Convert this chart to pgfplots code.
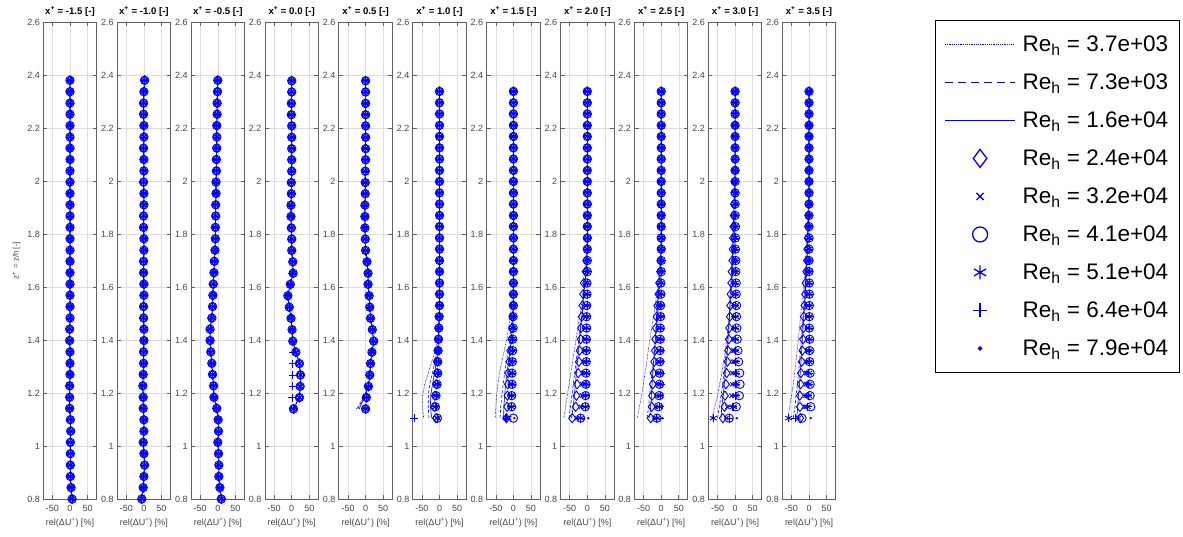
\documentclass[border=0pt]{standalone}
\usepackage{pgfplots}
\pgfplotsset{compat=1.18}
\usepackage{pgfplotstable}
\usepackage{fontspec}
\setmainfont{Liberation Sans}

% ---------- data: panels 1-3 (all Re collapse) ----------
\pgfplotstableread{
z u
0.800 6
0.843 3
0.885 1
0.928 1
0.971 1
1.014 1
1.056 2
1.099 1
1.142 -1
1.184 -1
1.227 -1
1.270 0
1.312 0
1.355 0
1.398 -1
1.441 -1
1.483 0
1.526 0
1.569 0
1.611 0
1.654 0
1.697 0
1.739 0
1.782 0
1.825 0
1.868 0
1.910 0
1.953 0
1.996 0
2.038 0
2.081 0
2.124 0
2.166 0
2.209 0
2.252 0
2.294 0
2.337 0
2.380 0
}\tPone
\pgfplotstableread{
z u
0.800 -6
0.843 -2
0.885 0
0.928 2
0.971 0
1.014 -2
1.056 0
1.099 0
1.142 -2
1.184 -2
1.227 -3
1.270 -2
1.312 -1
1.355 -1
1.398 0
1.441 0
1.483 -1
1.526 -1
1.569 0
1.611 0
1.654 -1
1.697 -1
1.739 0
1.782 0
1.825 -1
1.868 -1
1.910 0
1.953 0
1.996 -1
2.038 0
2.081 0
2.124 -1
2.166 0
2.209 0
2.252 -1
2.294 -1
2.337 0
2.380 2
}\tPtwo
\pgfplotstableread{
z u
0.800 10
0.843 6
0.885 3
0.928 3
0.971 2
1.014 0
1.056 2
1.099 1
1.142 -3
1.184 -11
1.227 -12
1.270 -15
1.312 -17
1.355 -20
1.398 -22
1.441 -22
1.483 -17
1.526 -15
1.569 -14
1.611 -13
1.654 -11
1.697 -10
1.739 -8
1.782 -7
1.825 -7
1.868 -6
1.910 -6
1.953 -5
1.996 -5
2.038 -4
2.081 -4
2.124 -3
2.166 -3
2.209 -3
2.252 -2
2.294 -2
2.337 -1
2.380 0
}\tPthree
% ---------- panel 4 (x+=0.0): u = all, p = Re 6.4e4 ----------
\pgfplotstableread{
z u p
1.140 5 5
1.183 22 2
1.225 24 3
1.268 25 3
1.311 22 3
1.354 12 4
1.396 3 3
1.439 1 1
1.482 -2 -2
1.524 -7 -7
1.567 -11 -11
1.610 -4 -4
1.652 4 2
1.695 3 3
1.738 0 0
1.781 0 0
1.823 -1 -1
1.866 -2 -2
1.909 -2 -2
1.952 -1 -1
1.994 -1 -1
2.037 0 0
2.080 0 0
2.122 0 0
2.165 0 0
2.208 0 0
2.250 -1 -1
2.293 -1 -1
2.336 0 0
2.378 0 0
}\tPfour
% ---------- panel 5 (x+=0.5) ----------
\pgfplotstableread{
z u la lb lc
1.140 0 -26 -22 -18
1.183 2 -6 -5 -4
1.225 8 8 8 8
1.268 12 12 12 12
1.311 14 14 14 14
1.354 18 18 18 18
1.396 23 23 23 23
1.439 19 19 19 19
1.482 14 14 14 14
1.524 12 12 12 12
1.567 10 10 10 10
1.610 7 7 7 7
1.652 7 7 7 7
1.695 4 4 4 4
1.738 0 0 0 0
1.781 -1 -1 -1 -1
1.823 -2 -2 -2 -2
1.866 -2 -2 -2 -2
1.909 -2 -2 -2 -2
1.952 -1 -1 -1 -1
1.994 -1 -1 -1 -1
2.037 -1 -1 -1 -1
2.080 0 0 0 0
2.122 0 0 0 0
2.165 0 0 0 0
2.208 0 0 0 0
2.250 0 0 0 0
2.293 0 0 0 0
2.336 0 0 0 0
2.378 0 0 0 0
}\tPfive
% ---------- panels 6-11: a..k = Re 3.7e3 ... 7.9e4 ----------
\pgfplotstableread{
z a b c d e f g h k
1.105 -45 -30 -22 -10 -8 -6 -6 -72 -4
1.148 -48 -32 -26 -15 -13 -12 -11 -10 -9
1.190 -48 -32 -25 -13 -11 -10 -10 -9 -9
1.233 -42 -28 -20 -9 -8 -7 -7 -7 -6
1.275 -32 -20 -14 -7 -6 -5 -5 -5 -5
1.318 -22 -13 -9 -6 -5 -5 -5 -4 -4
1.360 -12 -7 -5 -4 -4 -4 -4 -4 -4
1.403 -5 -3 -3 -3 -3 -3 -3 -3 -3
1.445 -2 -2 -2 -2 -2 -2 -2 -2 -2
1.488 -1 -1 -1 -1 -1 -1 -1 -1 -1
1.530 0 0 0 0 0 0 0 0 0
1.573 0 0 0 0 0 0 0 0 0
1.615 0 0 0 0 0 0 0 0 0
1.658 0 0 0 0 0 0 0 0 0
1.700 0 0 0 0 0 0 0 0 0
1.743 0 0 0 0 0 0 0 0 0
1.785 0 0 0 0 0 0 0 0 0
1.828 0 0 0 0 0 0 0 0 0
1.870 0 0 0 0 0 0 0 0 0
1.913 0 0 0 0 0 0 0 0 0
1.955 0 0 0 0 0 0 0 0 0
1.998 0 0 0 0 0 0 0 0 0
2.040 0 0 0 0 0 0 0 0 0
2.083 0 0 0 0 0 0 0 0 0
2.125 0 0 0 0 0 0 0 0 0
2.168 0 0 0 0 0 0 0 0 0
2.210 0 0 0 0 0 0 0 0 0
2.253 0 0 0 0 0 0 0 0 0
2.295 0 0 0 0 0 0 0 0 0
2.338 0 0 0 0 0 0 0 0 0
}\tPsix
\pgfplotstableread{
z a b c d e f g h k
1.105 -52 -38 -28 -20 -12 0 -20 -22 3
1.148 -50 -36 -27 -18 -10 -5 -6 -6 -4
1.190 -48 -33 -25 -17 -9 -5 -5 -5 -4
1.233 -44 -29 -22 -16 -8 -4 -4 -4 -4
1.275 -40 -25 -18 -15 -7 -4 -4 -3 -3
1.318 -33 -20 -14 -12 -6 -3 -3 -3 -3
1.360 -26 -15 -10 -9 -5 -2 -2 -2 -2
1.403 -19 -10 -6 -6 -3 -2 -2 -2 -2
1.445 -14 -6 -3 -4 -2 -1 -1 -1 -1
1.488 -9 -3 -1 -2 -1 -1 -1 -1 -1
1.530 -5 -1 0 -1 0 0 0 0 0
1.573 -3 0 0 0 0 0 0 0 0
1.615 -1 0 0 0 0 0 0 0 0
1.658 0 0 0 0 0 0 0 0 0
1.700 0 0 0 0 0 0 0 0 0
1.743 0 0 0 0 0 0 0 0 0
1.785 0 0 0 0 0 0 0 0 0
1.828 0 0 0 0 0 0 0 0 0
1.870 0 0 0 0 0 0 0 0 0
1.913 0 0 0 0 0 0 0 0 0
1.955 0 0 0 0 0 0 0 0 0
1.998 0 0 0 0 0 0 0 0 0
2.040 0 0 0 0 0 0 0 0 0
2.083 0 0 0 0 0 0 0 0 0
2.125 0 0 0 0 0 0 0 0 0
2.168 0 0 0 0 0 0 0 0 0
2.210 0 0 0 0 0 0 0 0 0
2.253 0 0 0 0 0 0 0 0 0
2.295 0 0 0 0 0 0 0 0 0
2.338 0 0 0 0 0 0 0 0 0
}\tPseven
\pgfplotstableread{
z a b c d e f g h k
1.105 -67 -52 -45 -43 -30 -19 -19 -19 3
1.148 -62 -48 -40 -33 -18 -6 -5 -5 -4
1.190 -57 -44 -37 -31 -15 -5 -4 -4 -3
1.233 -52 -40 -34 -29 -14 -4 -4 -3 -3
1.275 -47 -36 -31 -26 -12 -4 -3 -3 -3
1.318 -42 -32 -28 -24 -10 -3 -3 -3 -2
1.360 -37 -28 -25 -22 -9 -3 -3 -2 -2
1.403 -32 -24 -22 -19 -8 -3 -2 -2 -2
1.445 -27 -20 -19 -18 -7 -2 -2 -2 -2
1.488 -22 -16 -16 -16 -5 -2 -2 -2 -1
1.530 -17 -12 -13 -14 -4 -2 -1 -1 -1
1.573 -12 -9 -10 -12 -3 -1 -1 -1 -1
1.615 -7 -6 -7 -10 -2 -1 -1 -1 -1
1.658 -3 -3 -4 -5 -1 0 0 0 0
1.700 -1 -1 -2 -3 -1 0 0 0 0
1.743 0 0 -1 -1 0 0 0 0 0
1.785 0 0 0 0 0 0 0 0 0
1.828 0 0 0 0 0 0 0 0 0
1.870 0 0 0 0 0 0 0 0 0
1.913 0 0 0 0 0 0 0 0 0
1.955 0 0 0 0 0 0 0 0 0
1.998 0 0 0 0 0 0 0 0 0
2.040 0 0 0 0 0 0 0 0 0
2.083 0 0 0 0 0 0 0 0 0
2.125 0 0 0 0 0 0 0 0 0
2.168 0 0 0 0 0 0 0 0 0
2.210 0 0 0 0 0 0 0 0 0
2.253 0 0 0 0 0 0 0 0 0
2.295 0 0 0 0 0 0 0 0 0
2.338 0 0 0 0 0 0 0 0 0
}\tPeight
\pgfplotstableread{
z a b c d e f g h k
1.105 -68 -40 -33 -30 -18 -12 -12 -13 4
1.148 -62 -36 -30 -27 -15 -8 -5 -4 -2
1.190 -56 -33 -28 -26 -13 -6 -3 -3 -2
1.233 -51 -30 -26 -24 -12 -5 -3 -2 -2
1.275 -46 -26 -24 -22 -11 -5 -2 -2 -1
1.318 -41 -22 -21 -20 -10 -4 -2 -2 -1
1.360 -37 -19 -19 -18 -9 -4 -2 -1 -1
1.403 -32 -16 -17 -17 -8 -3 -1 -1 -1
1.445 -27 -13 -15 -15 -7 -3 -1 -1 -1
1.488 -22 -10 -13 -13 -6 -2 -1 -1 -1
1.530 -17 -8 -11 -11 -5 -2 -1 -1 0
1.573 -13 -6 -8 -8 -4 -1 0 0 0
1.615 -9 -4 -6 -6 -3 -1 0 0 0
1.658 -6 -2 -3 -3 -2 0 0 0 0
1.700 -3 -1 -2 -2 -1 0 0 0 0
1.743 -1 0 0 0 0 0 0 0 0
1.785 0 0 0 0 0 0 0 0 0
1.828 0 0 0 0 0 0 0 0 0
1.870 0 0 0 0 0 0 0 0 0
1.913 0 0 0 0 0 0 0 0 0
1.955 0 0 0 0 0 0 0 0 0
1.998 0 0 0 0 0 0 0 0 0
2.040 0 0 0 0 0 0 0 0 0
2.083 0 0 0 0 0 0 0 0 0
2.125 0 0 0 0 0 0 0 0 0
2.168 0 0 0 0 0 0 0 0 0
2.210 0 0 0 0 0 0 0 0 0
2.253 0 0 0 0 0 0 0 0 0
2.295 0 0 0 0 0 0 0 0 0
2.338 0 0 0 0 0 0 0 0 0
}\tPnine
\pgfplotstableread{
z a b c d e f g h k
1.105 -66 -50 -40 -35 -25 -17 -62 -17 5
1.148 -58 -45 -38 -30 -22 3 -5 -8 2
1.190 -50 -40 -34 -29 -10 12 2 2 2
1.233 -44 -35 -31 -26 -8 14 3 2 2
1.275 -38 -31 -28 -24 -8 13 3 2 2
1.318 -33 -28 -25 -22 -6 10 2 2 1
1.360 -28 -25 -22 -20 -5 8 2 1 1
1.403 -24 -22 -20 -18 -4 6 1 1 1
1.445 -20 -19 -18 -17 -3 5 1 1 1
1.488 -17 -16 -16 -15 -3 4 1 1 1
1.530 -14 -14 -15 -14 -2 4 1 1 1
1.573 -11 -12 -14 -13 -2 3 0 0 0
1.615 -9 -10 -12 -11 -1 3 0 0 0
1.658 -7 -8 -10 -10 -1 2 0 0 0
1.700 -5 -6 -9 -8 0 2 0 0 0
1.743 -3 -4 -7 -7 0 1 0 0 0
1.785 -2 -3 -6 -6 0 1 0 0 0
1.828 -1 -2 -5 -5 0 1 0 0 0
1.870 0 -1 -4 -4 0 0 0 0 0
1.913 0 0 -3 -3 0 0 0 0 0
1.955 0 0 -2 -2 0 0 0 0 0
1.998 0 0 -1 -1 0 0 0 0 0
2.040 0 0 0 0 0 0 0 0 0
2.083 0 0 0 0 0 0 0 0 0
2.125 0 0 0 0 0 0 0 0 0
2.168 0 0 0 0 0 0 0 0 0
2.210 0 0 0 0 0 0 0 0 0
2.253 0 0 0 0 0 0 0 0 0
2.295 0 0 0 0 0 0 0 0 0
2.338 0 0 0 0 0 0 0 0 0
}\tPten
\pgfplotstableread{
z a b c d e f g h k
1.105 -60 -45 -35 -25 -30 -20 -58 -40 5
1.148 -55 -40 -32 -26 -12 5 -5 -4 -2
1.190 -50 -37 -30 -26 -10 3 -2 -2 -1
1.233 -45 -33 -27 -24 -9 3 -1 -1 -1
1.275 -41 -30 -25 -23 -8 3 -1 -1 -1
1.318 -37 -27 -23 -21 -7 2 0 0 0
1.360 -34 -24 -21 -19 -6 2 0 0 0
1.403 -30 -22 -19 -17 -5 2 0 0 0
1.445 -27 -19 -17 -16 -5 1 0 0 0
1.488 -24 -17 -15 -15 -4 1 0 0 0
1.530 -21 -15 -13 -13 -3 1 0 0 0
1.573 -18 -13 -11 -11 -3 1 0 0 0
1.615 -15 -11 -9 -10 -2 1 0 0 0
1.658 -12 -9 -7 -8 -2 0 0 0 0
1.700 -10 -7 -6 -6 -1 0 0 0 0
1.743 -8 -5 -4 -5 -1 0 0 0 0
1.785 -6 -4 -3 -4 0 0 0 0 0
1.828 -4 -3 -2 -3 0 0 0 0 0
1.870 -3 -2 -1 -2 0 0 0 0 0
1.913 -2 -1 0 -1 0 0 0 0 0
1.955 -1 0 0 0 0 0 0 0 0
1.998 0 0 0 0 0 0 0 0 0
2.040 0 0 0 0 0 0 0 0 0
2.083 0 0 0 0 0 0 0 0 0
2.125 0 0 0 0 0 0 0 0 0
2.168 0 0 0 0 0 0 0 0 0
2.210 0 0 0 0 0 0 0 0 0
2.253 0 0 0 0 0 0 0 0 0
2.295 0 0 0 0 0 0 0 0 0
2.338 0 0 0 0 0 0 0 0 0
}\tPeleven

\definecolor{mblue}{RGB}{0,0,255}
\pgfplotsset{
  serA/.style={draw=mblue, color=mblue, line width=0.6pt, dash pattern=on 0.6pt off 0.8pt, mark=none,
    legend image code/.code={\draw[mblue, line width=1.1pt, dash pattern=on 1.1pt off 1.1pt] (0pt,0pt) -- (70pt,0pt);}},
  serB/.style={draw=mblue, color=mblue, line width=0.6pt, dash pattern=on 3pt off 2pt, mark=none,
    legend image code/.code={\draw[mblue, line width=1.1pt, dash pattern=on 8pt off 5pt] (0pt,0pt) -- (70pt,0pt);}},
  serC/.style={draw=mblue, color=mblue, line width=0.6pt, solid, mark=none,
    legend image code/.code={\draw[mblue, line width=1.1pt, solid] (0pt,0pt) -- (70pt,0pt);}},
  serD/.style={color=mblue, only marks, mark=diamond, mark size=4.6pt, mark options={solid, draw=mblue, line width=0.9pt},
    legend image code/.code={\draw[mblue, only marks, mark=diamond, mark size=9pt, mark options={solid, draw=mblue, line width=1.3pt}] plot coordinates {(35pt,0pt)};}},
  serE/.style={color=mblue, only marks, mark=x, mark size=3pt, mark options={solid, draw=mblue, line width=0.9pt},
    legend image code/.code={\draw[mblue, only marks, mark=x, mark size=5pt, mark options={solid, draw=mblue, line width=1.3pt}] plot coordinates {(35pt,0pt)};}},
  serF/.style={color=mblue, only marks, mark=o, mark size=4.2pt, mark options={solid, draw=mblue, line width=0.9pt},
    legend image code/.code={\draw[mblue, only marks, mark=o, mark size=7.5pt, mark options={solid, draw=mblue, line width=1.3pt}] plot coordinates {(35pt,0pt)};}},
  serG/.style={color=mblue, only marks, mark=asterisk, mark size=4pt, mark options={solid, draw=mblue, line width=0.9pt},
    legend image code/.code={\draw[mblue, only marks, mark=asterisk, mark size=7pt, mark options={solid, draw=mblue, line width=1.3pt}] plot coordinates {(35pt,0pt)};}},
  serH/.style={color=mblue, only marks, mark=+, mark size=4pt, mark options={solid, draw=mblue, line width=0.9pt},
    legend image code/.code={\draw[mblue, only marks, mark=+, mark size=7pt, mark options={solid, draw=mblue, line width=1.3pt}] plot coordinates {(35pt,0pt)};}},
  serK/.style={color=mblue, only marks, mark=*, mark size=1pt, mark options={solid, draw=mblue, fill=mblue},
    legend image code/.code={\draw[mblue, only marks, mark=*, mark size=1.8pt, mark options={solid, draw=mblue, fill=mblue}] plot coordinates {(35pt,0pt)};}},
  panel/.style={
    scale only axis, width=53.4pt, height=477pt, anchor=south west,
    xmin=-76, xmax=76, ymin=0.8, ymax=2.6,
    xtick={-50,0,50}, ytick={0.8,1,1.2,1.4,1.6,1.8,2,2.2,2.4,2.6},
    tick align=inside, tick pos=both, xticklabel pos=left, yticklabel pos=left,
    major tick length=4pt,
    axis line style={black!62, line width=0.9pt},
    every tick/.style={black!62, line width=0.6pt},
    grid=major, major grid style={black!13, line width=0.5pt},
    tick label style={font=\fontsize{9}{10}\selectfont, text=black!72},
    xticklabel style={yshift=-2.5pt},
    /pgf/number format/assume math mode=true,
    title style={font=\bfseries\fontsize{9.6}{11}\selectfont, yshift=-4pt},
    xlabel={rel(ΔU\textsuperscript{+}) [\%]},
    xlabel style={font=\fontsize{9}{10}\selectfont, text=black!72},
    ylabel style={font=\fontsize{8}{9}\selectfont, text=black!72},
    legend cell align=left,
  },
}

\newcommand\plotfull[1]{%
  \addplot[serA] table[x=a,y=z]{#1};
  \addplot[serB] table[x=b,y=z]{#1};
  \addplot[serC] table[x=c,y=z]{#1};
  \addplot[serD] table[x=d,y=z]{#1};
  \addplot[serE] table[x=e,y=z]{#1};
  \addplot[serF] table[x=f,y=z]{#1};
  \addplot[serG] table[x=g,y=z]{#1};
  \addplot[serH] table[x=h,y=z]{#1};
  \addplot[serK] table[x=k,y=z]{#1};}
\newcommand\plotsix[6]{%
  \addplot[serA] table[x=#2,y=z]{#1};
  \addplot[serB] table[x=#3,y=z]{#1};
  \addplot[serC] table[x=#4,y=z]{#1};
  \addplot[serD] table[x=#5,y=z]{#1};
  \addplot[serE] table[x=#5,y=z]{#1};
  \addplot[serF] table[x=#5,y=z]{#1};
  \addplot[serG] table[x=#5,y=z]{#1};
  \addplot[serH] table[x=#6,y=z]{#1};
  \addplot[serK] table[x=#5,y=z]{#1};}

\begin{document}
\begin{tikzpicture}
\useasboundingbox (0pt,0pt) rectangle (1183pt,537pt);
\begin{axis}[panel, at={(43.3pt,38pt)}, title={x\textsuperscript{+} = -1.5 [-]}, ylabel={z\textsuperscript{+} = z/h [-]}]
\plotsix{\tPone}{u}{u}{u}{u}{u}
\end{axis}
\begin{axis}[panel, at={(117.2pt,38pt)}, title={x\textsuperscript{+} = -1.0 [-]}]
\plotsix{\tPtwo}{u}{u}{u}{u}{u}
\end{axis}
\begin{axis}[panel, at={(191.1pt,38pt)}, title={x\textsuperscript{+} = -0.5 [-]}]
\plotsix{\tPthree}{u}{u}{u}{u}{u}
\end{axis}
\begin{axis}[panel, at={(265.0pt,38pt)}, title={x\textsuperscript{+} = 0.0 [-]}]
\plotsix{\tPfour}{u}{u}{u}{u}{p}
\end{axis}
\begin{axis}[panel, at={(338.9pt,38pt)}, title={x\textsuperscript{+} = 0.5 [-]}]
\plotsix{\tPfive}{la}{lb}{lc}{u}{u}
\end{axis}
\begin{axis}[panel, at={(412.8pt,38pt)}, title={x\textsuperscript{+} = 1.0 [-]}]
\plotfull{\tPsix}
\end{axis}
\begin{axis}[panel, at={(486.7pt,38pt)}, title={x\textsuperscript{+} = 1.5 [-]}]
\plotfull{\tPseven}
\end{axis}
\begin{axis}[panel, at={(560.6pt,38pt)}, title={x\textsuperscript{+} = 2.0 [-]}]
\plotfull{\tPeight}
\end{axis}
\begin{axis}[panel, at={(634.5pt,38pt)}, title={x\textsuperscript{+} = 2.5 [-]}]
\plotfull{\tPnine}
\end{axis}
\begin{axis}[panel, at={(708.4pt,38pt)}, title={x\textsuperscript{+} = 3.0 [-]}]
\plotfull{\tPten}
\end{axis}
\begin{axis}[panel, at={(782.3pt,38pt)}, title={x\textsuperscript{+} = 3.5 [-]},
  legend style={at={(2.861,1.0042)}, anchor=north west, draw=black, line width=0.9pt, fill=white,
    font=\fontsize{22.5}{27}\selectfont, row sep=8pt, column sep=5pt,
    inner xsep=9pt, inner ysep=9pt, nodes={inner xsep=2pt, inner ysep=2pt, minimum height=30pt}}]
\plotfull{\tPeleven}
\legend{Re\textsubscript{h} = 3.7e+03, Re\textsubscript{h} = 7.3e+03, Re\textsubscript{h} = 1.6e+04,
  Re\textsubscript{h} = 2.4e+04, Re\textsubscript{h} = 3.2e+04, Re\textsubscript{h} = 4.1e+04,
  Re\textsubscript{h} = 5.1e+04, Re\textsubscript{h} = 6.4e+04, Re\textsubscript{h} = 7.9e+04}
\end{axis}
\end{tikzpicture}
\end{document}
